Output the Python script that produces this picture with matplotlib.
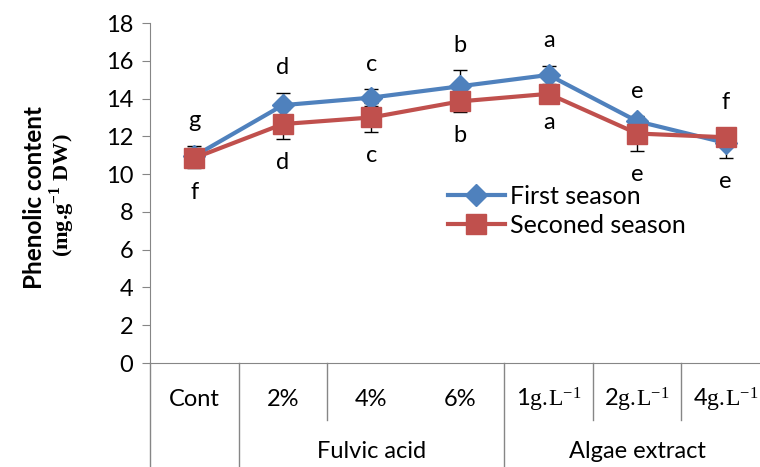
import numpy as np
import matplotlib.pyplot as plt
from matplotlib.transforms import blended_transform_factory

plt.rcParams['font.family'] = ['Lato', 'DejaVu Sans']
plt.rcParams['mathtext.fontset'] = 'custom'
plt.rcParams['mathtext.rm'] = 'Liberation Serif'
plt.rcParams['mathtext.bf'] = 'Liberation Serif:bold'

# treatments and group labels along the x axis
treatments = ['Cont', '2%', '4%', '6%',
              r'1$\mathrm{g.\!L^{-1}}$', r'2$\mathrm{g.\!L^{-1}}$', r'4$\mathrm{g.\!L^{-1}}$']
groups = ['Fulvic acid', 'Algae extract']

# phenolic content (mg/g DW) and standard errors
first_season = [10.95, 13.65, 14.05, 14.65, 15.25, 12.8, 11.65]
first_err = [0.55, 0.65, 0.45, 0.85, 0.5, 0.2, 0.8]
second_season = [10.85, 12.65, 13.0, 13.85, 14.25, 12.15, 11.95]
second_err = [0.55, 0.8, 0.75, 0.55, 0.25, 0.9, 0.15]

# letters of significance: above = first season, below = second season
letters_top = ['g', 'd', 'c', 'b', 'a', 'e', 'f']
letters_bottom = ['f', 'd', 'c', 'b', 'a', 'e', 'e']

blue = '#4F81BD'
red = '#C0504D'
gray = '#868686'

fig = plt.figure(figsize=(7.6, 4.67), dpi=100)
ax = fig.add_axes([150/760, (467-363)/467, 620/760, 340/467])

x = np.arange(len(treatments))

ax.errorbar(x, first_season, yerr=first_err, fmt='none', ecolor='black',
            elinewidth=1, capsize=5, capthick=1, zorder=2)
ax.errorbar(x, second_season, yerr=second_err, fmt='none', ecolor='black',
            elinewidth=1, capsize=5, capthick=1, zorder=2)
ax.plot(x, first_season, color=blue, lw=3, marker='D', markersize=11,
        label='First season', zorder=3)
ax.plot(x, second_season, color=red, lw=3, marker='s', markersize=15,
        label='Seconed season', zorder=4)

fs = np.array(first_season)
ss = np.array(second_season)
top = np.maximum(fs + np.array(first_err), ss + np.array(second_err))
bottom = np.minimum(fs - np.array(first_err), ss - np.array(second_err))
for i in range(len(x)):
    ax.annotate(letters_top[i], (x[i], top[i]), xytext=(0, 18),
                textcoords='offset points', ha='center', va='center', fontsize=17)
    ax.annotate(letters_bottom[i], (x[i], bottom[i]), xytext=(0, -17),
                textcoords='offset points', ha='center', va='center', fontsize=17)

ax.set_xlim(-0.5, 6.5)
ax.set_ylim(0, 18)
ax.set_yticks(range(0, 19, 2))
ax.tick_params(axis='y', labelsize=17, length=6, color=gray, pad=6)
ax.set_xticks([])
for side in ['top', 'right']:
    ax.spines[side].set_visible(False)
for side in ['left', 'bottom']:
    ax.spines[side].set_color(gray)

# category table under the axis
tr = blended_transform_factory(ax.transData, ax.transAxes)
h = 340
for i, lab in enumerate(treatments):
    ax.text(i, -37/h, lab, transform=tr, ha='center', va='center', fontsize=17)
for b in [0.5, 1.5, 3.5, 4.5, 5.5]:
    bot = -57/h if b not in (0.5, 3.5) else -104/h
    ax.plot([b, b], [0, bot], transform=tr, color=gray, lw=1, clip_on=False)
ax.plot([-0.5, -0.5], [0, -104/h], transform=tr, color=gray, lw=1, clip_on=False)
ax.text(2.0, -89/h, groups[0], transform=tr, ha='center', va='center', fontsize=17)
ax.text(5.0, -89/h, groups[1], transform=tr, ha='center', va='center', fontsize=17)

fig.text(35/760, 1 - 197/467, 'Phenolic content', rotation=90, ha='center',
         va='center', fontsize=17.5, fontweight='bold')
fig.text(62/760, 1 - 195/467, r'(mg.g$^{\mathbf{-1}}$ DW)', rotation=90,
         ha='center', va='center', fontsize=16, fontweight='bold',
         family='Liberation Serif')

ax.legend(loc='upper left', bbox_to_anchor=(0.48, 0.525), frameon=False,
          fontsize=18, handlelength=2.3, handletextpad=0.2, labelspacing=0.25,
          borderpad=0, borderaxespad=0)

fig.savefig('out.png', dpi=100)
